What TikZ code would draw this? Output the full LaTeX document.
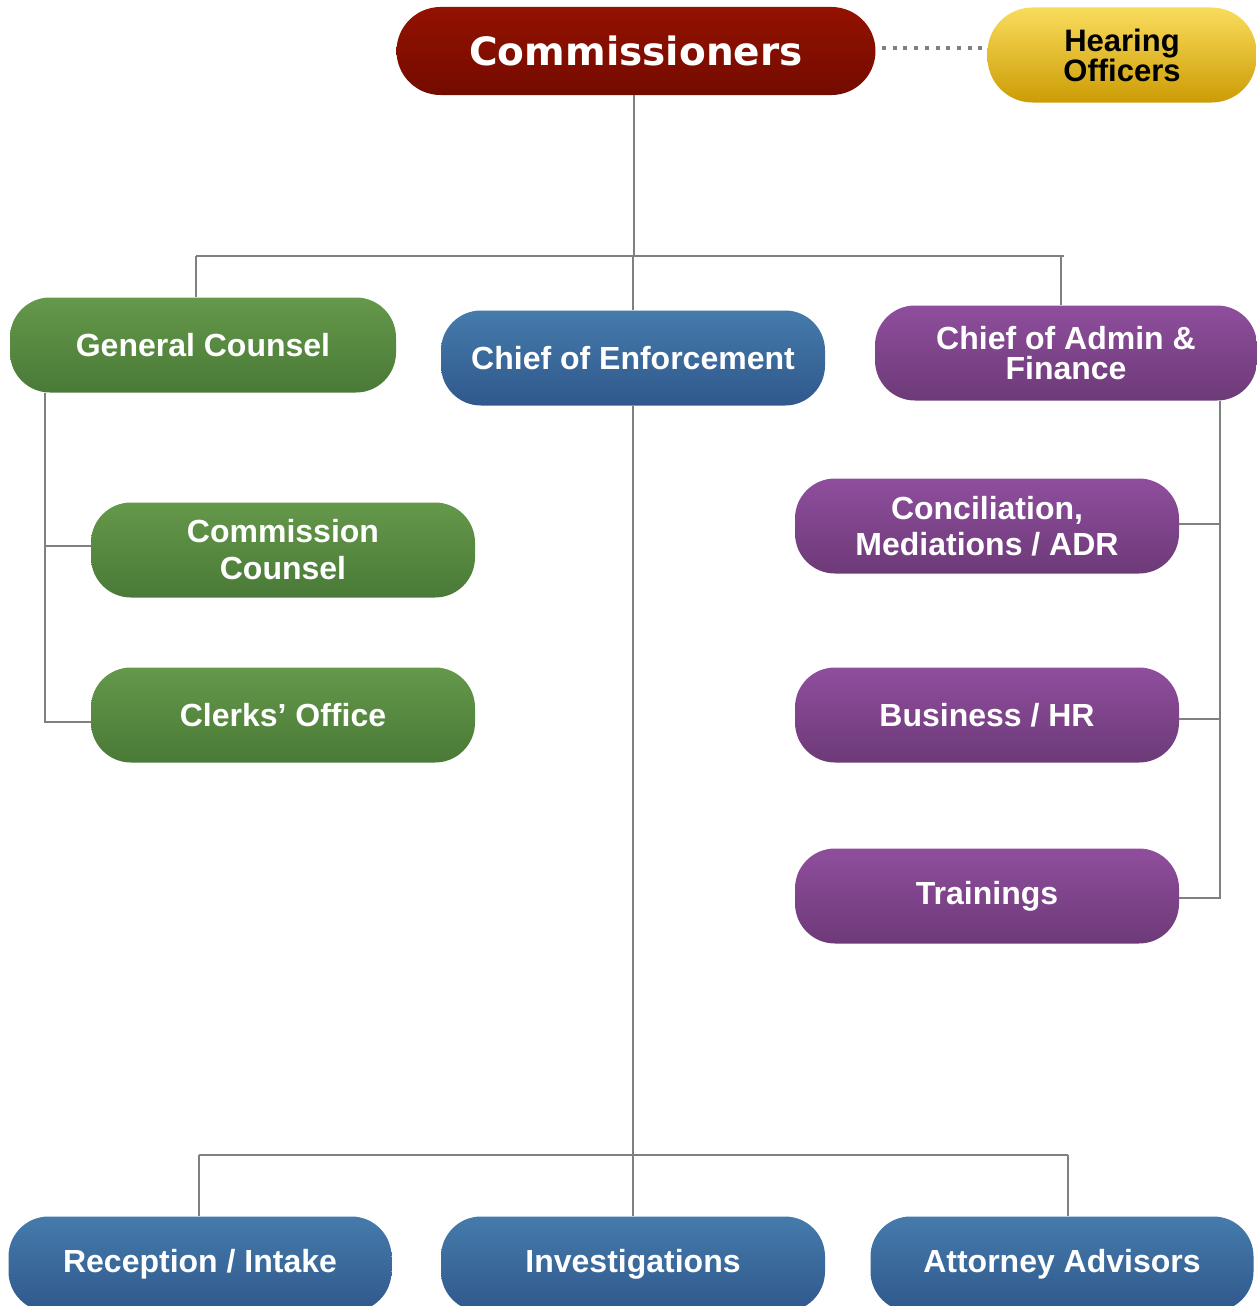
\documentclass[tikz,border=0pt]{standalone}
\usepackage{fontspec}
\setmainfont{Liberation Sans}
\newfontfamily\topfont{DejaVu Sans}

\definecolor{redtop}{HTML}{931200}
\definecolor{redbot}{HTML}{740B00}
\definecolor{yeltop}{HTML}{F9DC5C}
\definecolor{yelbot}{HTML}{CC9C05}
\definecolor{grntop}{HTML}{64984A}
\definecolor{grnbot}{HTML}{4A7A37}
\definecolor{blutop}{HTML}{457BAC}
\definecolor{blubot}{HTML}{30588C}
\definecolor{purtop}{HTML}{8F4E9D}
\definecolor{purbot}{HTML}{6D3A78}
\definecolor{linegray}{HTML}{808080}

\begin{document}
\begin{tikzpicture}[x=1pt, y=-1pt,
    box/.style={rectangle, rounded corners=40pt, minimum width=384pt, minimum height=95pt,
      inner sep=0pt, align=center, text=white, font=\fontsize{32}{37}\selectfont\bfseries},
    grnbox/.style={box, top color=grntop, bottom color=grnbot},
    blubox/.style={box, top color=blutop, bottom color=blubot},
    purbox/.style={box, top color=purtop, bottom color=purbot},
    link/.style={draw=linegray, line width=2.5pt},
    dots/.style={draw=linegray, line width=4.5pt, dash pattern=on 4pt off 6.7pt}
  ]
  \useasboundingbox (0,0) rectangle (1257,1306);

  % top row
  \node[box, rounded corners=44pt, minimum width=479pt, minimum height=88pt,
    top color=redtop, bottom color=redbot, font=\topfont\fontsize{39}{44}\selectfont\bfseries]
    (comm) at (636,51) {Commissioners};
  \node[box, rounded corners=45pt, minimum width=269pt, text=black,
    top color=yeltop, bottom color=yelbot, font=\fontsize{31}{29}\selectfont\bfseries]
    (hear) at (1122,55) {Hearing\\Officers};
  \draw[dots] (882,48) -- (hear.west |- 0,48);

  % second row
  \node[grnbox, minimum width=386pt] (gc) at (203,345) {General Counsel};
  \node[blubox] (enf) at (633,358) {Chief of Enforcement};
  \node[purbox, minimum width=382pt, font=\fontsize{32}{30}\selectfont\bfseries]
    (adm) at (1066,353) {Chief of Admin \&\\Finance};

  % under general counsel
  \node[grnbox] (cc) at (283,550) {Commission\\Counsel};
  \node[grnbox] (clk) at (283,715) {Clerks’ Office};

  % under admin & finance
  \node[purbox, font=\fontsize{32}{36}\selectfont\bfseries] (adr) at (987,526) {Conciliation,\\Mediations / ADR};
  \node[purbox] (hr) at (987,715) {Business / HR};
  \node[purbox] (trn) at (987,896) {Trainings};

  % under enforcement
  \node[blubox, minimum width=383pt] (rec) at (200,1264) {Reception / Intake};
  \node[blubox] (inv) at (633,1264) {Investigations};
  \node[blubox, minimum width=383pt] (atty) at (1062,1264) {Attorney Advisors};

  % connectors
  \coordinate (busL) at (196,256);
  \coordinate (busR) at (1064,256);
  \coordinate (busA) at (1061,256);
  \draw[link] (comm.south -| 634,0) -- (634,256);
  \draw[link] (busL) -- (busR);
  \draw[link] (busL) -- (busL |- gc.north);
  \draw[link] (enf) -- (enf |- busL);
  \draw[link] (busA) -- (busA |- adm.north);

  \coordinate (gcspine) at (45,0);
  \draw[link] (gc.south -| gcspine) |- ([yshift=-7pt]clk.west);
  \draw[link] ([yshift=4pt]cc.west) -- ([yshift=4pt]cc.west -| gcspine);

  \coordinate (admspine) at (1220,0);
  \draw[link] (adm.south -| admspine) |- ([yshift=-2pt]trn.east);
  \draw[link] ([yshift=2pt]adr.east) -- ([yshift=2pt]adr.east -| admspine);
  \draw[link] ([yshift=-4pt]hr.east) -- ([yshift=-4pt]hr.east -| admspine);

  \coordinate (busBL) at (199,1155);
  \coordinate (busBR) at (1068,1155);
  \draw[link] (enf) -- (inv);
  \draw[link] (busBL) -- (busBR);
  \draw[link] (busBL) -- (busBL |- rec.north);
  \draw[link] (busBR) -- (busBR |- atty.north);
\end{tikzpicture}
\end{document}
